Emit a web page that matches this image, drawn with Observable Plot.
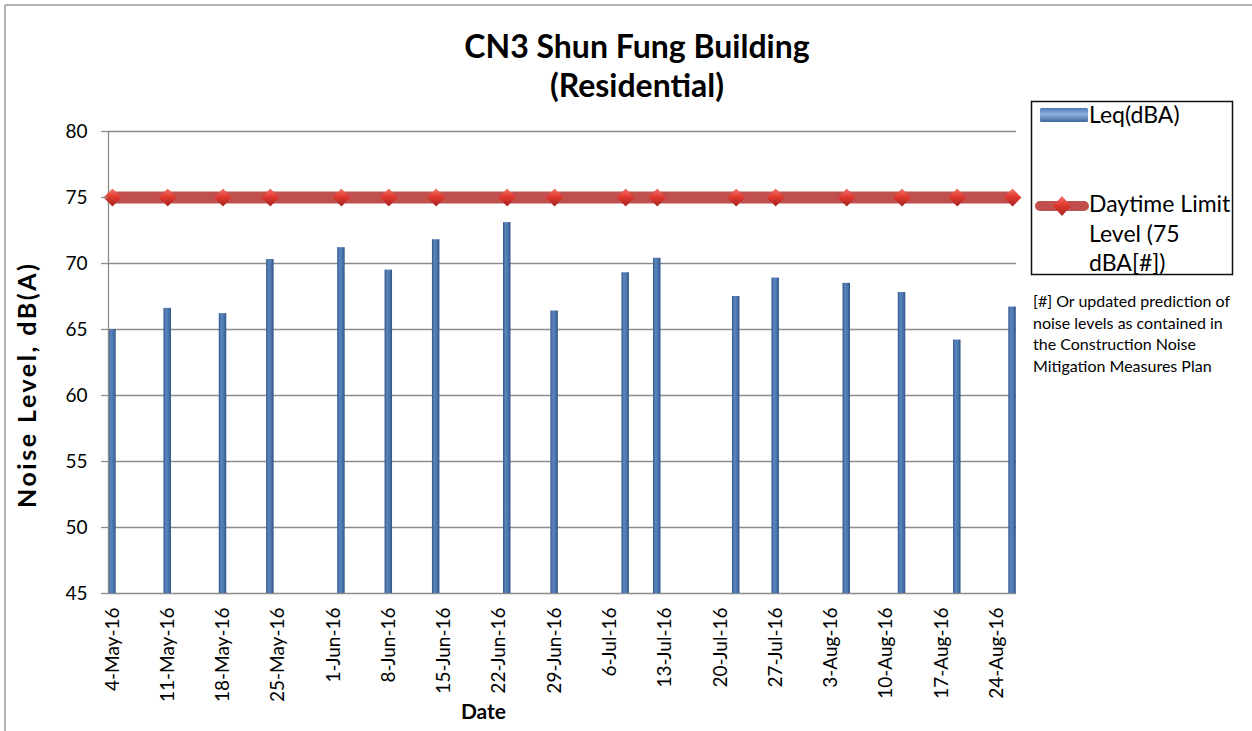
<!DOCTYPE html>
<html>
<head>
<meta charset="utf-8">
<script src="https://cdn.jsdelivr.net/npm/d3@7"></script>
<script src="https://cdn.jsdelivr.net/npm/@observablehq/plot@0.6"></script>
<style>
  body { margin: 0; background: #fff; }
  #wrap { position: relative; width: 1252px; height: 731px; overflow: hidden; background: #fff; }
  #chart, #overlay { position: absolute; left: 0; top: 0; }
</style>
</head>
<body>
<svg width="0" height="0" style="position:absolute">
  <defs>
    <linearGradient id="barGrad" x1="0" x2="1" y1="0" y2="0">
      <stop offset="0%" stop-color="#35598c"/>
      <stop offset="35%" stop-color="#5a86bd"/>
      <stop offset="70%" stop-color="#4874aa"/>
      <stop offset="100%" stop-color="#2f5283"/>
    </linearGradient>
    <linearGradient id="swatchGrad" x1="0" x2="0" y1="0" y2="1">
      <stop offset="0%" stop-color="#4a78b3"/>
      <stop offset="45%" stop-color="#8fb2de"/>
      <stop offset="100%" stop-color="#3d67a0"/>
    </linearGradient>
    <linearGradient id="dGrad" x1="0" x2="0" y1="0" y2="1">
      <stop offset="0%" stop-color="#f3766a"/>
      <stop offset="45%" stop-color="#e2392f"/>
      <stop offset="100%" stop-color="#a3241f"/>
    </linearGradient>
  </defs>
</svg>
<div id="wrap">
  <div id="chart"></div>
  <svg id="overlay" width="1252" height="731" style="font-family:Lato, sans-serif">
    <line x1="5" y1="5" x2="1252" y2="5" stroke="#9a9a9a" stroke-width="1.5"/>
    <line x1="5" y1="5" x2="5" y2="731" stroke="#9a9a9a" stroke-width="1.5"/>
    <text x="637" y="58" text-anchor="middle" font-weight="bold" font-size="32">CN3 Shun Fung Building</text>
    <text x="637" y="97" text-anchor="middle" font-weight="bold" font-size="32">(Residential)</text>
    <text x="36" y="386" text-anchor="middle" font-weight="bold" font-size="25" textLength="244" lengthAdjust="spacing" transform="rotate(-90 36 386)">Noise Level, dB(A)</text>
    <text x="483.5" y="719" text-anchor="middle" font-weight="bold" font-size="21">Date</text>
    <rect x="1031.5" y="101.5" width="201" height="173" fill="none" stroke="#111" stroke-width="1.5"/>
    <rect x="1040" y="108" width="48" height="14" fill="url(#swatchGrad)" rx="1.5"/>
    <text x="1089" y="123" font-size="23">Leq(dBA)</text>
    <line x1="1040" y1="206" x2="1084" y2="206" stroke="#c0504d" stroke-width="10" stroke-linecap="round"/>
    <path d="M1062,196 L1071,206 L1062,216 L1053,206 Z" fill="url(#dGrad)"/>
    <text font-size="23">
      <tspan x="1089" y="212">Daytime Limit</tspan>
      <tspan x="1089" y="242">Level (75</tspan>
      <tspan x="1089" y="271">dBA[#])</tspan>
    </text>
    <text font-size="16">
      <tspan x="1033" y="307">[#] Or updated prediction of</tspan>
      <tspan x="1033" y="328.5">noise levels as contained in</tspan>
      <tspan x="1033" y="350">the Construction Noise</tspan>
      <tspan x="1033" y="371.5">Mitigation Measures Plan</tspan>
    </text>
  </svg>
</div>
<script>
// ---- data ----
const dates = ["2016-05-04","2016-05-11","2016-05-18","2016-05-24","2016-06-02","2016-06-08",
               "2016-06-14","2016-06-23","2016-06-29","2016-07-08","2016-07-12","2016-07-22",
               "2016-07-27","2016-08-05","2016-08-12","2016-08-19","2016-08-26"];
const leq = [65.0, 66.6, 66.2, 70.3, 71.2, 69.5, 71.8, 73.1, 66.4, 69.3, 70.4, 67.5,
             68.9, 68.5, 67.8, 64.2, 66.7];
const limit = [75, 75, 75, 75, 75, 75, 75, 75, 75, 75, 75, 75, 75, 75, 75, 75, 75];
const tickDates = ["2016-05-04","2016-05-11","2016-05-18","2016-05-25","2016-06-01","2016-06-08",
                   "2016-06-15","2016-06-22","2016-06-29","2016-07-06","2016-07-13","2016-07-20",
                   "2016-07-27","2016-08-03","2016-08-10","2016-08-17","2016-08-24"];
const yTicks = [45, 50, 55, 60, 65, 70, 75, 80];
const xDomain = ["2016-05-04", "2016-08-27"];

const rows = dates.map((d, i) => ({date: new Date(d), leq: leq[i], limit: limit[i]}));
const noon = d => d3.utcHour.offset(d, 12);
const fmt = d3.utcFormat("%-d-%b-%y");
const grid = "#8c8c8c";

const chart = Plot.plot({
  width: 1252,
  height: 731,
  marginLeft: 108,
  marginRight: 236,
  marginTop: 131,
  marginBottom: 138,
  style: {fontFamily: "Lato, sans-serif", fontSize: "19px", color: "#000", background: "transparent"},
  x: {type: "utc", domain: xDomain.map(d => new Date(d))},
  y: {domain: [45, 80]},
  marks: [
    Plot.gridY(yTicks, {stroke: grid, strokeOpacity: 1, strokeWidth: 1.3}),
    Plot.rectY(rows, {
      x1: d => d.date, x2: d => d3.utcDay.offset(d.date, 1),
      y1: 45, y2: "leq",
      fill: "url(#barGrad)", insetLeft: 0.2, insetRight: 0.2
    }),
    Plot.ruleX([new Date(xDomain[0])], {stroke: grid, strokeWidth: 1.3}),
    Plot.line(rows, {x: d => noon(d.date), y: "limit", stroke: "#c0504d", strokeWidth: 12}),
    Plot.dot(rows, {x: d => noon(d.date), y: "limit", symbol: "diamond2", r: 8, fill: "url(#dGrad)", stroke: "none"}),
    Plot.axisY(yTicks, {tickSize: 7, tickPadding: 14, stroke: grid, strokeWidth: 1.3, fill: "#000", fontSize: 19, label: null}),
    Plot.axisX(tickDates.map(d => noon(new Date(d))), {
      tickRotate: -90, tickSize: 0, tickPadding: 14, tickFormat: fmt,
      fill: "#000", fontSize: 19, label: null
    })
  ]
});
document.getElementById("chart").appendChild(chart);
</script>
</body>
</html>
